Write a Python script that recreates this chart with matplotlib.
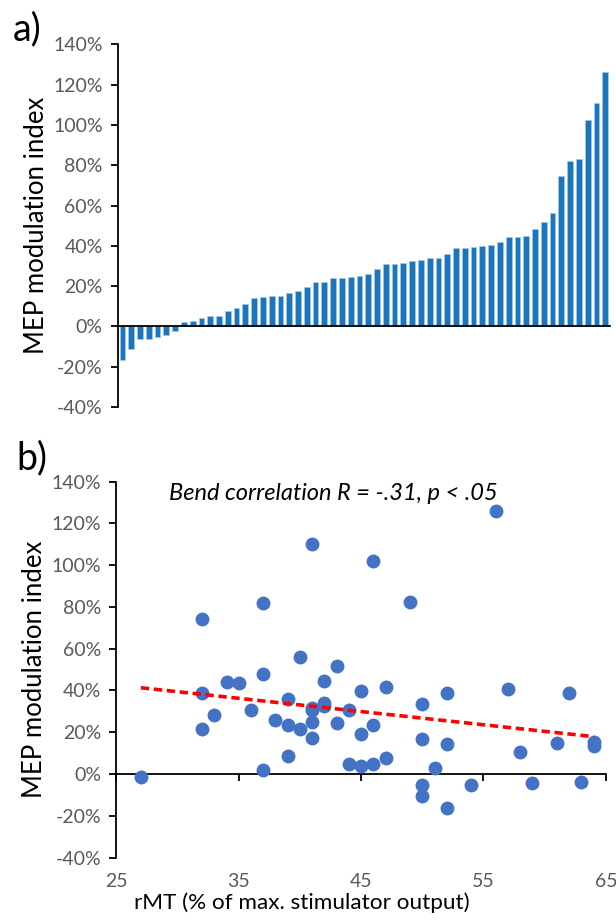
import numpy as np
import matplotlib
matplotlib.use("Agg")
import matplotlib.pyplot as plt
from matplotlib.ticker import FuncFormatter

plt.rcParams.update({
    "font.family": ["Lato", "DejaVu Sans"],
    "axes.spines.top": False, "axes.spines.right": False,
    "axes.linewidth": 1.3, "axes.edgecolor": "black",
})

# ---- a) sorted MEP modulation index per subject (%)
mep_sorted = [-16.9, -11.4, -6.3, -6.0, -5.1, -4.3, -2.5, 2.0, 2.6, 4.3,
              5.1, 5.1, 7.8, 9.3, 10.9, 13.9, 14.6, 15.2, 15.2, 16.7,
              17.5, 19.5, 22.0, 22.2, 24.0, 24.0, 24.7, 25.2, 25.8, 28.6,
              30.8, 30.8, 31.6, 32.5, 33.1, 33.8, 33.9, 36.1, 38.7, 38.7,
              39.4, 39.9, 40.6, 42.1, 44.2, 44.5, 45.0, 48.3, 52.0, 56.5,
              74.5, 82.3, 82.9, 102.5, 110.9, 126.3]

# ---- b) rMT vs MEP modulation index
rmt = [27, 32, 32, 32, 33, 34, 35, 36, 37, 37, 37, 38, 39, 39, 39, 40, 40,
       41, 41, 41, 41, 41, 42, 42, 42, 43, 43, 44, 44,
       45, 45, 45, 46, 46, 46, 47, 47, 49, 50, 50, 50, 50, 51, 52, 52, 52,
       54, 56, 57, 58, 59, 61, 62, 63, 64, 64]
mep = [-1.6, 74.0, 38.6, 21.8, 28.5, 44.3, 43.8, 30.8, 81.8, 48.0, 1.9,
       25.8, 35.9, 23.7, 8.8, 56.1, 21.8, 110.3, 30.9, 31.6, 25.0, 17.4,
       44.6, 32.8, 33.8, 51.6, 24.5, 30.6, 4.8,
       39.7, 19.4, 4.1, 101.8, 23.7, 4.8, 41.8, 7.8, 82.4, 33.6, 16.6,
       -5.3, -10.5, 2.7, 39.0, 14.3, -16.1, -5.4, 125.7, 40.5, 10.7, -4.5,
       15.1, 38.6, -3.8, 15.5, 13.4]

YTICKS = list(range(-40, 141, 20))
XTICKS_B = [25, 35, 45, 55, 65]
pct = FuncFormatter(lambda v, _: f"{v:.0f}%")
GRAY = "#595959"

fig = plt.figure(figsize=(6.16, 9.23), dpi=100)

def style_y(ax):
    ax.set_ylim(-40, 140)
    ax.set_yticks(YTICKS)
    ax.yaxis.set_major_formatter(pct)
    ax.tick_params(axis="y", direction="out", length=5, width=1.3,
                   labelsize=14, labelcolor=GRAY, pad=6)
    ax.set_ylabel("MEP modulation index", fontsize=18.5, labelpad=3)

# ===== a)
ax1 = fig.add_axes([0.1916, 0.559, 0.798, 0.393])
x = np.arange(len(mep_sorted))
ax1.bar(x, mep_sorted, width=0.66, color="#1b75bc", edgecolor="#a9cbe8",
        linewidth=0.4, zorder=2)
ax1.set_xlim(-0.5, len(mep_sorted) - 0.5)
ax1.spines["bottom"].set_position(("data", 0))
ax1.spines["bottom"].set_zorder(3)
ax1.set_xticks([])
style_y(ax1)
fig.text(0.02, 0.968, "a)", fontsize=27, va="center", ha="left")

# ===== b)
ax2 = fig.add_axes([0.189, 0.0708, 0.7945, 0.4075])
ax2.scatter(rmt, mep, s=100, color="#4472c4", linewidths=0, zorder=3)
k, b = np.polyfit(rmt, mep, 1)
xs = np.array([min(rmt), max(rmt)])
ax2.plot(xs, k * xs + b, color="#ff0000", lw=2.6, dashes=(2.3, 1.3),
         zorder=4)
ax2.set_xlim(25, 65)
ax2.set_xticks(XTICKS_B)
ax2.spines["bottom"].set_position(("data", 0))
ax2.tick_params(axis="x", direction="out", length=5, width=1.3,
                labelbottom=False)
sec = ax2.secondary_xaxis("bottom")
sec.set_xticks(XTICKS_B)
sec.spines["bottom"].set_visible(False)
sec.tick_params(length=0, labelsize=14, labelcolor=GRAY, pad=11)
sec.set_xlabel("rMT (% of max. stimulator output)", fontsize=16.2,
               labelpad=2)
sec.xaxis.label.set_x(0.379)
style_y(ax2)
ax2.text(0.444, 0.968, "Bend correlation R = -.31, p < .05",
         transform=ax2.transAxes, fontsize=17, style="italic",
         ha="center", va="center")
fig.text(0.026, 0.503, "b)", fontsize=27, va="center", ha="left")

fig.savefig("out.png", dpi=100)
